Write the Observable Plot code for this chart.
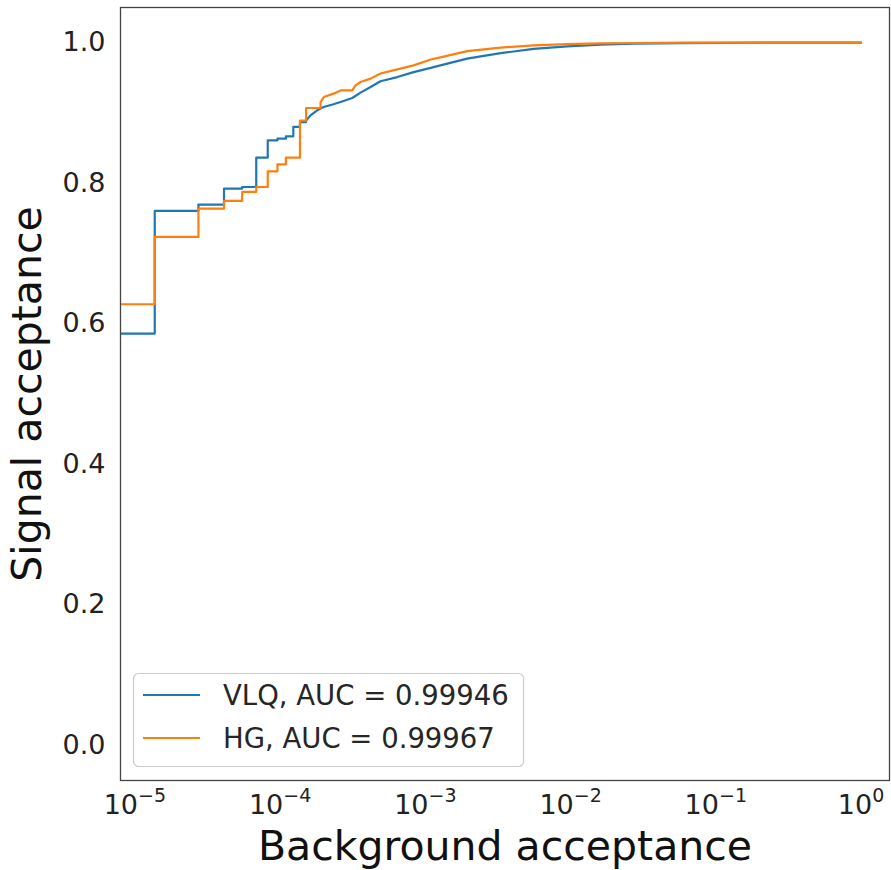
<!DOCTYPE html>
<html>
<head>
<meta charset="utf-8">
<script src="https://cdn.jsdelivr.net/npm/d3@7"></script>
<script src="https://cdn.jsdelivr.net/npm/@observablehq/plot@0.6"></script>
<style>
  html, body { margin: 0; padding: 0; background: white; }
  #chart { width: 891px; height: 870px; }
</style>
</head>
<body>
<div id="chart"></div>
<script>
// ---- Data (ROC points incl. step corners) ----
const seriesNames = ["VLQ, AUC = 0.99946", "HG, AUC = 0.99967"];
const seriesColors = ["#1f77b4", "#ff7f0e"];

const vlqFpr = [1e-6, 1.37e-5, 1.37e-5, 2.74e-5, 2.74e-5, 4.11e-5, 4.11e-5, 5.48e-5, 5.48e-5, 6.85e-5,
  6.85e-5, 8.22e-5, 8.22e-5, 9.59e-5, 9.59e-5, 1.096e-4, 1.096e-4, 1.233e-4, 1.233e-4, 1.37e-4,
  1.37e-4, 1.51e-4, 1.51e-4, 1.62e-4, 1.80e-4, 1.99e-4, 2.30e-4, 2.61e-4, 3.14e-4, 3.58e-4,
  4.20e-4, 4.91e-4, 6.41e-4, 8.30e-4, 1.09e-3, 1.27e-3, 1.94e-3, 3.30e-3, 5.56e-3, 9.48e-3,
  1.61e-2, 2.72e-2, 5.73e-2, 0.12, 0.3, 1.0];
const vlqTpr = [0.586, 0.586, 0.7605, 0.7605, 0.7696, 0.7696, 0.7923, 0.7923, 0.7946, 0.7946,
  0.8364, 0.8364, 0.861, 0.861, 0.8634, 0.8634, 0.8667, 0.8667, 0.880, 0.880,
  0.887, 0.887, 0.889, 0.8966, 0.9037, 0.9084, 0.912, 0.9155, 0.9212, 0.9289,
  0.9368, 0.945, 0.951, 0.958, 0.964, 0.9677, 0.9772, 0.985, 0.991, 0.9947,
  0.997, 0.9986, 0.9994, 0.9998, 1.0, 1.0];

const hgFpr = [1e-6, 1.37e-5, 1.37e-5, 2.74e-5, 2.74e-5, 4.11e-5, 4.11e-5, 5.48e-5, 5.48e-5, 6.85e-5,
  6.85e-5, 8.22e-5, 8.22e-5, 9.59e-5, 9.59e-5, 1.096e-4, 1.096e-4, 1.37e-4, 1.37e-4, 1.51e-4,
  1.51e-4, 1.90e-4, 1.90e-4, 2.00e-4, 2.33e-4, 2.61e-4, 3.14e-4, 3.31e-4, 3.58e-4, 4.20e-4,
  4.91e-4, 6.41e-4, 8.30e-4, 1.09e-3, 1.27e-3, 1.94e-3, 3.30e-3, 5.56e-3, 9.48e-3, 1.61e-2,
  2.72e-2, 0.06, 0.15, 1.0];
const hgTpr = [0.6277, 0.6277, 0.7235, 0.7235, 0.7638, 0.7638, 0.7747, 0.7747, 0.7875, 0.7875,
  0.7946, 0.7946, 0.8169, 0.8169, 0.8269, 0.8269, 0.8364, 0.8364, 0.889, 0.889,
  0.907, 0.907, 0.9155, 0.9226, 0.9274, 0.932, 0.932, 0.9393, 0.944, 0.9488,
  0.956, 0.962, 0.9677, 0.976, 0.979, 0.988, 0.9929, 0.9962, 0.998, 0.999,
  0.9995, 0.9999, 1.0, 1.0];

const xTicks = [1e-5, 1e-4, 1e-3, 1e-2, 1e-1, 1];
const yTicks = [0.0, 0.2, 0.4, 0.6, 0.8, 1.0];
const xLabel = "Background acceptance";
const yLabel = "Signal acceptance";

// ---- Build rows ----
const vlqRows = vlqFpr.map((f, i) => ({fpr: f, tpr: vlqTpr[i], series: seriesNames[0]}));
const hgRows = hgFpr.map((f, i) => ({fpr: f, tpr: hgTpr[i], series: seriesNames[1]}));

const svg = Plot.plot({
  width: 891,
  height: 870,
  marginLeft: 120,
  marginRight: 2,
  marginTop: 7,
  marginBottom: 90,
  style: {fontFamily: "DejaVu Sans", fontSize: "27px", color: "#222", background: "white"},
  x: {type: "log", domain: [Math.pow(10, -5.099), Math.pow(10, 0.196)]},
  y: {domain: [-0.05, 1.05]},
  marks: [
    Plot.axisX({ticks: xTicks, tickSize: 0, tickPadding: 14, label: null, fontSize: 27,
      tickFormat: d => String(Math.round(Math.log10(d)))}),
    Plot.axisY({ticks: yTicks, tickSize: 0, tickPadding: 15, label: null, fontSize: 27,
      tickFormat: d => d.toFixed(1)}),
    Plot.line(vlqRows, {x: "fpr", y: "tpr", stroke: seriesColors[0], strokeWidth: 2.2, clip: true}),
    Plot.line(hgRows, {x: "fpr", y: "tpr", stroke: seriesColors[1], strokeWidth: 2.2, clip: true}),
    Plot.frame({stroke: "#444", strokeWidth: 1.3}),
    Plot.text([xLabel], {text: d => d, frameAnchor: "bottom", textAnchor: "middle", dy: 79, fontSize: 41, fill: "#111"}),
    Plot.text([yLabel], {text: d => d, frameAnchor: "left", textAnchor: "middle", rotate: -90, dx: -93, fontSize: 41, fill: "#111"})
  ]
});

// Superscript exponents on x tick labels (10^n)
svg.querySelectorAll('g[aria-label="x-axis tick label"] text').forEach(t => {
  const e = +t.textContent;
  t.textContent = "";
  const ns = "http://www.w3.org/2000/svg";
  const base = document.createElementNS(ns, "tspan");
  base.textContent = "10";
  const sup = document.createElementNS(ns, "tspan");
  sup.textContent = e < 0 ? "\u2212" + (-e) : String(e);
  sup.setAttribute("font-size", "19px");
  sup.setAttribute("dy", "-12");
  t.appendChild(base);
  t.appendChild(sup);
});

// Legend inside the plot (lower left)
const lg = d3.select(svg).append("g").attr("font-family", "DejaVu Sans").attr("text-anchor", "start");
lg.append("rect")
  .attr("x", 133.5).attr("y", 673.5).attr("width", 390).attr("height", 93)
  .attr("rx", 5).attr("fill", "white").attr("fill-opacity", 0.8)
  .attr("stroke", "#cccccc").attr("stroke-width", 1.2);
seriesNames.forEach((name, i) => {
  const cy = 695 + i * 43;
  lg.append("line").attr("x1", 143).attr("x2", 200).attr("y1", cy).attr("y2", cy)
    .attr("stroke", seriesColors[i]).attr("stroke-width", 2.2);
  lg.append("text").attr("x", 223).attr("y", cy).attr("dy", "0.36em")
    .attr("text-anchor", "start")
    .attr("font-size", "27.5px").attr("fill", "#262626").text(name);
});

document.getElementById("chart").appendChild(svg);
</script>
</body>
</html>
